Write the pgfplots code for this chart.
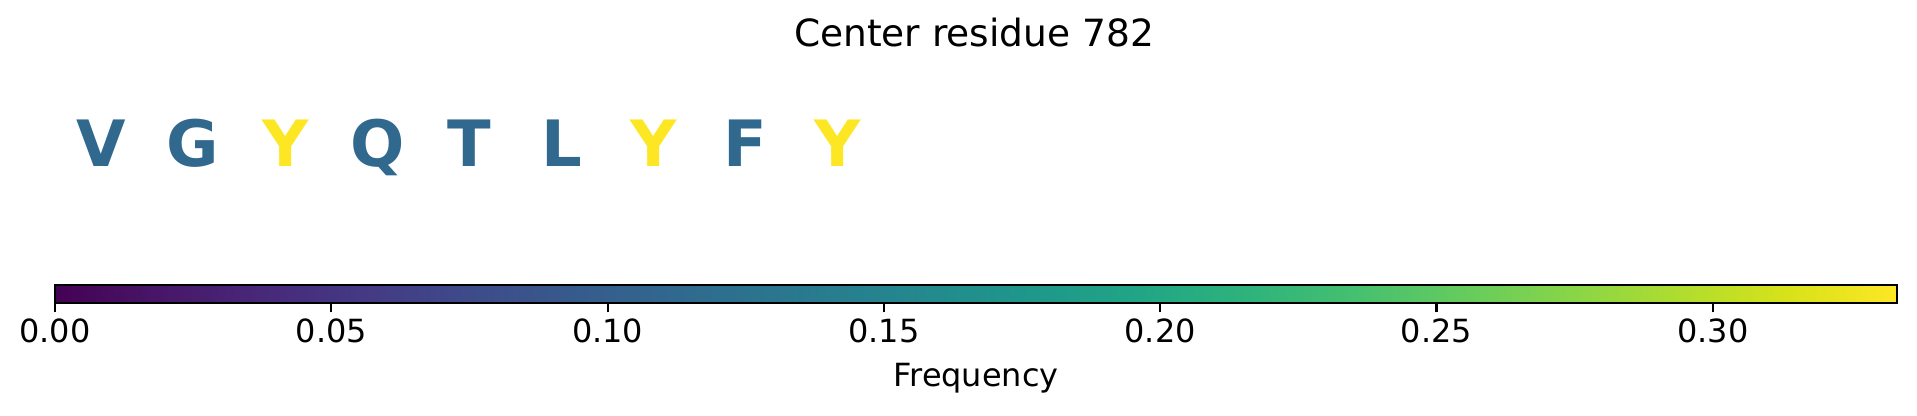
\documentclass[border=0pt]{standalone}
\usepackage{pgfplots}
\usepackage{pgfplotstable}
\pgfplotsset{compat=1.18}
\usepackage{fontspec}
\setmainfont{DejaVu Sans}

\definecolor{viridisA}{HTML}{31688E}% frequency 1/9
\definecolor{viridisB}{HTML}{FDE725}% frequency 1/3

% position, frequency, residue
\pgfplotstableread{
x freq label
0 0.111111 V
1 0.111111 G
3 0.111111 Q
4 0.111111 T
5 0.111111 L
7 0.111111 F
}\lowres
\pgfplotstableread{
x freq label
2 0.333333 Y
6 0.333333 Y
8 0.333333 Y
}\highres

\begin{document}
\begin{tikzpicture}
\path[use as bounding box] (0,0) rectangle (690.12pt,149.76pt);
\begin{axis}[
  at={(0,0)}, anchor=south west,
  scale only axis, width=690.12pt, height=149.76pt,
  xmin=-1.0966, xmax=19.717, ymin=0, ymax=416,
  hide axis, clip=false,
  colormap/viridis,
  point meta min=0, point meta max=0.333333,
  colorbar horizontal,
  colorbar style={
    at={(0.02870,0.27091)}, anchor=south west,
    scale only axis, width=663.12pt, height=6.48pt,
    xtick={0,0.05,0.10,0.15,0.20,0.25,0.30},
    xtick pos=bottom, xticklabel pos=lower,
    tick align=outside, major tick length=3.24pt,
    axis line style={line width=0.8pt},
    tick style={black, line width=0.8pt},
    /pgf/number format/assume math mode=true,
    xticklabel style={font=\fontsize{11.5}{13}\selectfont, anchor=base, yshift=-10.9pt,
      /pgf/number format/.cd, fixed, fixed zerofill, precision=2},
    xlabel={Frequency},
    xlabel style={at={(axis description cs:0.5,0)}, anchor=base, yshift=-29.8pt,
      font=\fontsize{11.5}{13}\selectfont},
  },
  every node near coord/.append style={anchor=base, inner sep=0pt,
    font=\fontsize{23}{27}\selectfont\bfseries},
]
\addplot[draw=none, mark=none, point meta=explicit symbolic,
  nodes near coords, every node near coord/.append style={text=viridisA}]
  table[x=x, y expr=249, meta=label] {\lowres};
\addplot[draw=none, mark=none, point meta=explicit symbolic,
  nodes near coords, every node near coord/.append style={text=viridisB}]
  table[x=x, y expr=249, meta=label] {\highres};
\node[anchor=base, font=\fontsize{13.5}{15}\selectfont] at (axis cs:9.479,369.3) {Center residue 782};
\end{axis}
\end{tikzpicture}
\end{document}
